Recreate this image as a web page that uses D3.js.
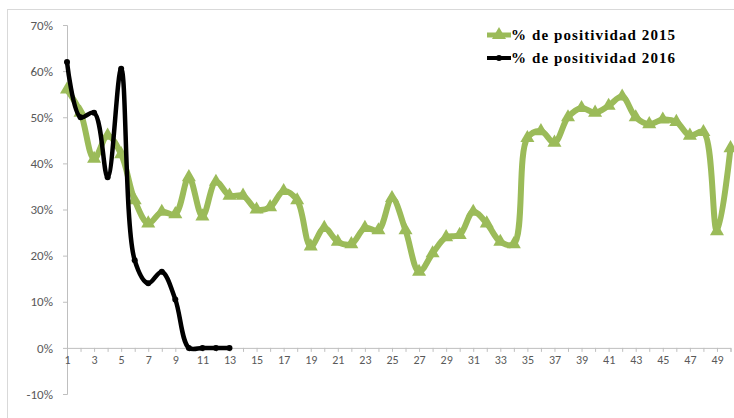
<!DOCTYPE html>
<html>
<head>
<meta charset="utf-8">
<script src="https://cdn.jsdelivr.net/npm/d3@7"></script>
<style>
  body { margin: 0; background: #fff; }
  svg { display: block; }
</style>
</head>
<body>
<div id="chart"></div>
<script>
// datos
const semanas = d3.range(1, 51);
const positividad2015 = [56, 51, 41, 46, 42, 32, 27, 29.5, 29, 37,
  28.5, 36, 33, 33, 30, 30.5, 34, 32, 22, 26,
  23, 22.5, 26, 25.5, 32.5, 25.5, 16.5, 20.5, 24, 24.5,
  29.5, 27, 23, 22.5, 45.5, 47, 44.5, 50, 52, 51,
  52.5, 54.5, 50, 48.5, 49.5, 49, 46, 46.8, 25.3, 43.3];
const positividad2016 = [62, 50, 51, 37, 60.5, 19, 14, 16.5, 10.5, 0, 0, 0, 0];
const yTicks = [-10, 0, 10, 20, 30, 40, 50, 60, 70];
const leyenda = ["% de positividad 2015", "% de positividad 2016"];

const width = 734;
const height = 418;

const svg = d3.select("#chart")
  .append("svg")
  .attr("width", width)
  .attr("height", height);

// marco del grafico
svg.append("rect")
  .attr("x", 7.5).attr("y", 9.5)
  .attr("width", 740).attr("height", 420)
  .attr("fill", "none")
  .attr("stroke", "#d9d9d9");

const x = d3.scaleLinear().domain([1, 50]).range([67, 730.5]);
const y = d3.scaleLinear().domain([-10, 70]).range([394, 25]);

// eje y
const yAxis = svg.append("g")
  .attr("transform", "translate(67,0)")
  .call(d3.axisLeft(y).tickValues(yTicks).tickSize(4).tickPadding(10)
    .tickFormat(d => d + "%"));
yAxis.select(".domain").attr("stroke", "#bfbfbf");
yAxis.selectAll(".tick line").attr("stroke", "#bfbfbf");
yAxis.selectAll("text")
  .attr("fill", "#595959")
  .style("font-family", "Carlito, Calibri, 'Liberation Sans', sans-serif")
  .style("font-size", "13px");

// eje x en 0%
const xAxis = svg.append("g")
  .attr("transform", `translate(0,${y(0)})`)
  .call(d3.axisBottom(x).tickValues(semanas).tickSize(4).tickPadding(4)
    .tickFormat(d => d % 2 === 1 ? d : ""));
xAxis.select(".domain").attr("stroke", "#bfbfbf");
xAxis.selectAll(".tick line").attr("stroke", "#bfbfbf");
xAxis.selectAll("text")
  .attr("fill", "#595959")
  .style("font-family", "Carlito, Calibri, 'Liberation Sans', sans-serif")
  .style("font-size", "12px");

const linea = d3.line()
  .x((d, i) => x(i + 1))
  .y(d => y(d))
  .curve(d3.curveCatmullRom.alpha(0.5));

// serie 2015
svg.append("path")
  .datum(positividad2015)
  .attr("d", linea)
  .attr("fill", "none")
  .attr("stroke", "#9bbb59")
  .attr("stroke-width", 6)
  .attr("stroke-linejoin", "round");

const tri = d3.symbol().type(d3.symbolTriangle).size(85);
svg.selectAll(".tri")
  .data(positividad2015)
  .enter()
  .append("path")
  .attr("class", "tri")
  .attr("d", tri)
  .attr("transform", (d, i) => `translate(${x(i + 1)},${y(d)})`)
  .attr("fill", "#9bbb59");

// serie 2016
svg.append("path")
  .datum(positividad2016)
  .attr("d", linea)
  .attr("fill", "none")
  .attr("stroke", "#000")
  .attr("stroke-width", 4.5)
  .attr("stroke-linejoin", "round");

svg.selectAll(".dot")
  .data(positividad2016)
  .enter()
  .append("circle")
  .attr("class", "dot")
  .attr("cx", (d, i) => x(i + 1))
  .attr("cy", d => y(d))
  .attr("r", 3)
  .attr("fill", "#000");

// leyenda
const colores = ["#9bbb59", "#000"];
const ley = svg.selectAll(".ley")
  .data(leyenda)
  .enter()
  .append("g")
  .attr("class", "ley")
  .attr("transform", (d, i) => `translate(487,${35 + i * 23})`);

ley.append("line")
  .attr("x1", 0).attr("x2", 24)
  .attr("stroke", (d, i) => colores[i])
  .attr("stroke-width", (d, i) => i === 0 ? 5 : 4);

ley.filter((d, i) => i === 0).append("path")
  .attr("d", tri)
  .attr("transform", "translate(12,0)")
  .attr("fill", "#9bbb59");
ley.filter((d, i) => i === 1).append("circle")
  .attr("cx", 12).attr("r", 3).attr("fill", "#000");

ley.append("text")
  .attr("x", 24)
  .attr("dy", "0.35em")
  .style("font-family", "'Liberation Serif', 'Times New Roman', serif")
  .style("font-weight", "bold")
  .style("font-size", "15px")
  .style("letter-spacing", "1.1px")
  .attr("fill", "#000")
  .text(d => d);
</script>
</body>
</html>
